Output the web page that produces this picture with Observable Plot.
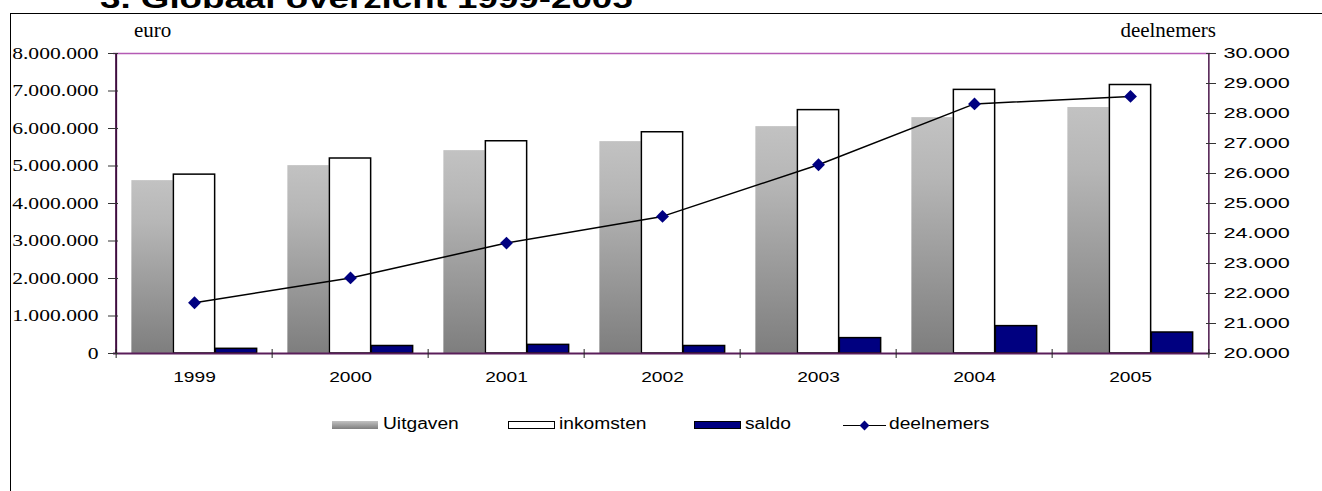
<!DOCTYPE html>
<html>
<head>
<meta charset="utf-8">
<script src="https://cdn.jsdelivr.net/npm/d3@7"></script>
<script src="https://cdn.jsdelivr.net/npm/@observablehq/plot@0.6"></script>
<style>
  html, body { margin: 0; padding: 0; background: #fff; }
  body { width: 1322px; height: 491px; overflow: hidden; position: relative; font-family: "Liberation Sans", Arial, sans-serif; }
  #frame { position: absolute; left: 10px; top: 13px; width: 1400px; height: 600px; border: 1.5px solid #000; }
  #title { position: absolute; left: 100px; top: -14px; font: bold 27px/1 "Liberation Sans", Arial, sans-serif; white-space: nowrap; transform-origin: 0 0; transform: scaleX(1.36); color: #000; }
  #chart { position: absolute; left: 0; top: 0; }
  .ytitle { position: absolute; top: 20px; font: 21px/1 "Liberation Serif", "Times New Roman", serif; white-space: nowrap; color: #000; }
  #legend { position: absolute; left: 0; top: 0; width: 1322px; height: 491px; }
  .lg-text { position: absolute; top: 416px; font: 16px/1 "Liberation Sans", Arial, sans-serif; white-space: nowrap; transform-origin: 0 0; transform: scaleX(1.2); color: #000; }
</style>
</head>
<body>
<div id="frame"></div>
<div id="chart"></div>
<div id="title">3. Globaal overzicht 1999-2005</div>
<div id="euro" class="ytitle" style="left:134px;">euro</div>
<div id="deel" class="ytitle" style="right:106px;">deelnemers</div>
<div id="legend"></div>
<script>
// ---- data ----
const years = ["1999", "2000", "2001", "2002", "2003", "2004", "2005"];
const uitgaven = [4610000, 5010000, 5410000, 5650000, 6050000, 6290000, 6560000];
const inkomsten = [4770000, 5200000, 5660000, 5900000, 6490000, 7030000, 7160000];
const saldo = [125000, 200000, 230000, 200000, 410000, 730000, 560000];
const deelnemers = [21690, 22520, 23680, 24570, 26290, 28320, 28570];
const leftTicks = [0, 1000000, 2000000, 3000000, 4000000, 5000000, 6000000, 7000000, 8000000];
const rightTicks = [20000, 21000, 22000, 23000, 24000, 25000, 26000, 27000, 28000, 29000, 30000];
const seriesNames = ["Uitgaven", "inkomsten", "saldo", "deelnemers"];

// ---- layout ----
const W = 1322, H = 400, ML = 113, MR = 112, MT = 53, MB = 47;
const bw = (W - ML - MR) / years.length;
const barW = bw * 0.268;
const off = (bw - 3 * barW) / 2;

const rows = years.map((y, i) => ({year: y, uitgaven: uitgaven[i], inkomsten: inkomsten[i], saldo: saldo[i], deelnemers: deelnemers[i]}));
const rMin = rightTicks[0], rMax = rightTicks[rightTicks.length - 1];
const lMax = leftTicks[leftTicks.length - 1];
const toLeft = d => (d - rMin) * lMax / (rMax - rMin);
const fromLeft = v => Math.round(v * (rMax - rMin) / lMax + rMin);
const nl = d3.formatLocale({decimal: ",", thousands: ".", grouping: [3], currency: ["", ""]});
const fmt = nl.format(",d");

const NS = "http://www.w3.org/2000/svg";
function gradientDefs() {
  const defs = document.createElementNS(NS, "defs");
  const lg = document.createElementNS(NS, "linearGradient");
  lg.setAttribute("id", "gradU");
  lg.setAttribute("x1", "0"); lg.setAttribute("y1", "0");
  lg.setAttribute("x2", "0"); lg.setAttribute("y2", "1");
  [["0", "#c2c2c2"], ["0.25", "#b6b6b6"], ["1", "#7e7e7e"]].forEach(([o, c]) => {
    const s = document.createElementNS(NS, "stop");
    s.setAttribute("offset", o); s.setAttribute("stop-color", c);
    lg.appendChild(s);
  });
  defs.appendChild(lg);
  return defs;
}

const axisColor = "#3f0c3f";
const chart = Plot.plot({
  width: W, height: H,
  marginLeft: ML, marginRight: MR, marginTop: MT, marginBottom: MB,
  style: {background: "transparent", overflow: "visible", color: "#000"},
  x: {type: "band", domain: years, padding: 0, label: null},
  y: {domain: [0, lMax], label: null},
  marks: [
    gradientDefs,
    Plot.barY(rows, {x: "year", y: "uitgaven", fill: "url(#gradU)", insetLeft: off, insetRight: bw - off - barW}),
    Plot.barY(rows, {x: "year", y: "inkomsten", fill: "white", stroke: "black", strokeWidth: 1.5, insetLeft: off + barW, insetRight: off + barW}),
    Plot.barY(rows, {x: "year", y: "saldo", fill: "#000080", stroke: "black", strokeWidth: 1.5, insetLeft: off + 2 * barW, insetRight: off}),
    // plot area frame
    Plot.ruleY([lMax], {stroke: "#b45ab4", strokeWidth: 1.5}),
    Plot.ruleY([0], {stroke: "#5a1e5a", strokeWidth: 2}),
    Plot.ruleX([years[0]], {dx: -bw / 2, stroke: axisColor, strokeWidth: 2}),
    Plot.ruleX([years[years.length - 1]], {dx: bw / 2, stroke: "#4a164a", strokeWidth: 1.5}),
    // category boundary ticks
    Plot.ruleX(years, {dx: -bw / 2, y1: 0, y2: 0, insetTop: -4, insetBottom: -5, stroke: "#222"}),
    Plot.ruleX([years[years.length - 1]], {dx: bw / 2, y1: 0, y2: 0, insetTop: -4, insetBottom: -5, stroke: "#222"}),
    // left axis
    Plot.axisY(leftTicks, {anchor: "left", tickSize: 10, dx: 5, tickFormat: () => "", stroke: "#333", label: null}),
    Plot.axisY(leftTicks, {anchor: "left", tickSize: 0, tickPadding: 15, tickFormat: fmt, fontSize: 17, fontFamily: "Liberation Serif", fill: "#000", label: null}),
    // right axis
    Plot.axisY(rightTicks.map(toLeft), {anchor: "right", tickSize: 10, dx: -5, tickFormat: () => "", stroke: "#333", label: null}),
    Plot.axisY(rightTicks.map(toLeft), {anchor: "right", tickSize: 0, tickPadding: 13, tickFormat: v => fmt(fromLeft(v)), fontSize: 15.5, fontFamily: "Liberation Sans", fill: "#000", label: null}),
    // x axis
    Plot.axisX(years, {anchor: "bottom", tickSize: 0, tickPadding: 18, fontSize: 15, fontFamily: "Liberation Sans", fill: "#000", label: null}),
    // deelnemers line
    Plot.line(rows, {x: "year", y: d => toLeft(d.deelnemers), stroke: "black", strokeWidth: 1.5}),
    Plot.dot(rows, {x: "year", y: d => toLeft(d.deelnemers), symbol: "diamond2", r: 5.8, fill: "#000080", stroke: "none"})
  ]
});
document.getElementById("chart").appendChild(chart);

// horizontal stretch of axis text (reference glyphs are wider)
chart.querySelectorAll("text").forEach(t => {
  const ga = t.closest("[text-anchor]");
  const anchor = ga ? ga.getAttribute("text-anchor") : "middle";
  const gf = t.closest("[font-family]");
  const ff = gf ? gf.getAttribute("font-family") : "";
  const s = ff.includes("Serif") ? 1.27 : anchor === "start" ? 1.4 : 1.28;
  const tr = t.getAttribute("transform");
  if (tr) t.setAttribute("transform", tr + ` scale(${s},1)`);
  else {
    const x = +t.getAttribute("x") || 0, y = +t.getAttribute("y") || 0;
    t.removeAttribute("x"); t.removeAttribute("y");
    t.setAttribute("transform", `translate(${x},${y}) scale(${s},1)`);
  }
});

// ---- legend (HTML, below the plot area) ----
const legend = document.getElementById("legend");
function box(left, top, w, h, css) {
  const d = document.createElement("div");
  d.style.cssText = `position:absolute;left:${left}px;top:${top}px;width:${w}px;height:${h}px;box-sizing:border-box;${css}`;
  legend.appendChild(d);
  return d;
}
function label(left, text) {
  const d = document.createElement("div");
  d.className = "lg-text";
  d.style.left = left + "px";
  d.textContent = text;
  legend.appendChild(d);
}
box(332, 421, 46, 8, "background:linear-gradient(#c2c2c2,#7e7e7e);");
label(383, seriesNames[0]);
box(508, 421, 47, 8, "background:#fff;border:1.5px solid #000;");
label(559, seriesNames[1]);
box(694, 421, 47, 8, "background:#000080;border:1.5px solid #000;");
label(745, seriesNames[2]);
box(843, 424.5, 43, 1.5, "background:#000;");
box(861, 421.5, 7, 7, "background:#000080;transform:rotate(45deg);");
label(889, seriesNames[3]);
</script>
</body>
</html>
